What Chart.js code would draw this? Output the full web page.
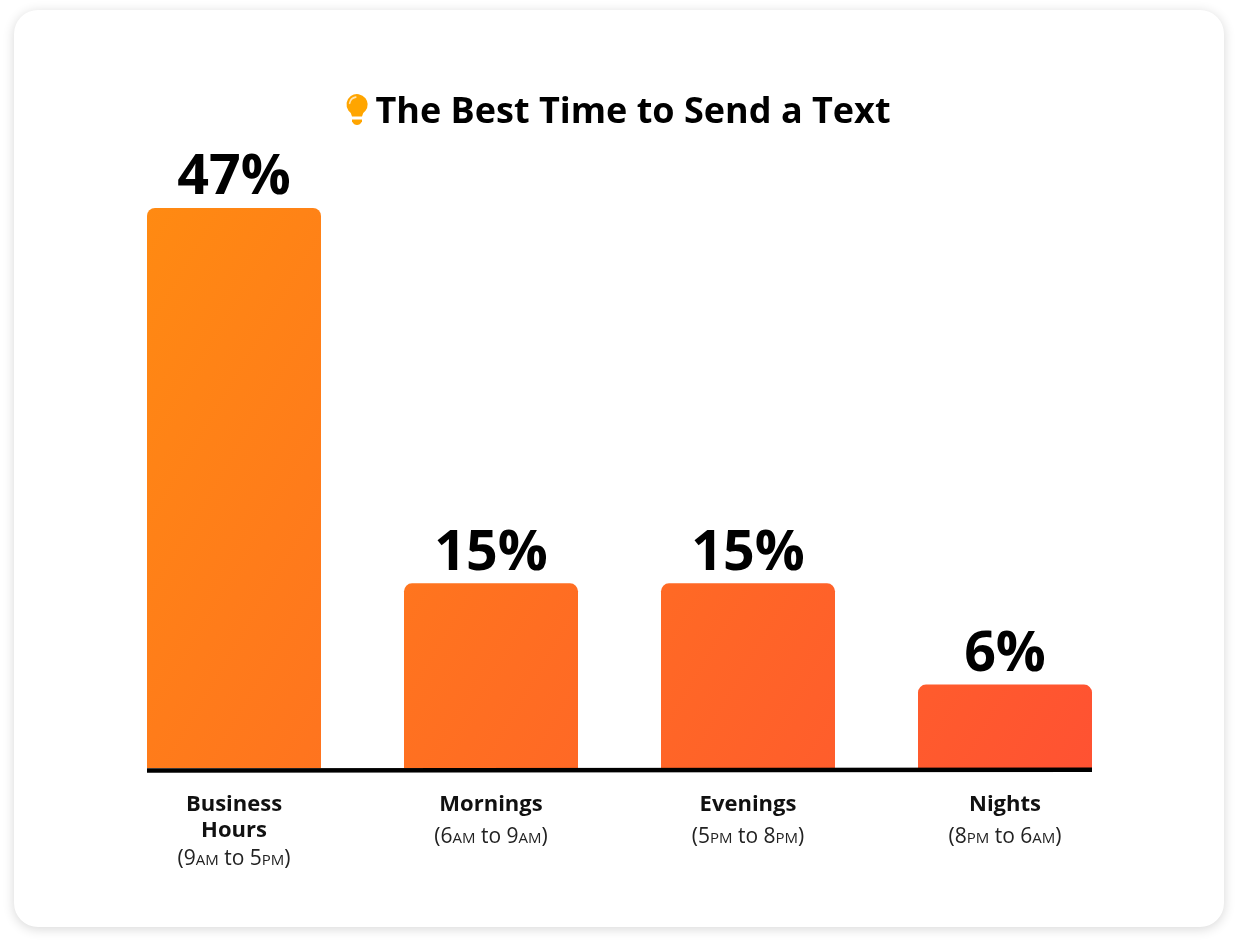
<!DOCTYPE html>
<html><head><meta charset="utf-8">
<style>
html,body{margin:0;padding:0;background:#fff;width:1238px;height:947px;overflow:hidden}
#card{position:absolute;left:14px;top:10px;width:1210px;height:917px;background:#fff;border-radius:24px;box-shadow:0 2px 12px rgba(0,0,0,.16)}
#wrap{position:absolute;left:0;top:0;width:1238px;height:947px}
</style>
<script src="https://cdn.jsdelivr.net/npm/chart.js@4"></script>
</head><body>
<div id="card"></div>
<div id="wrap"><canvas id="c"></canvas></div>
<script>
const chartTitle = "The Best Time to Send a Text";
const categories = [["Business","Hours"],"Mornings","Evenings","Nights"];
const timeRanges = ["(9am to 5pm)","(6am to 9am)","(5pm to 8pm)","(8pm to 6am)"];
const printedValues = ["47%","15%","15%","6%"];
const barHeights = [47,15.5,15.5,7];

const FONT = '"Open Sans"';

function drawRange(ctx, text, cx, y){
  const parts = text.split(/(am|pm)/);
  const fontOf = p => (p==='am'||p==='pm') ? `small-caps 21px ${FONT}` : `21px ${FONT}`;
  let total = 0;
  parts.forEach(p=>{ctx.font=fontOf(p); total+=ctx.measureText(p).width;});
  let x = cx-total/2;
  ctx.textAlign='left';
  parts.forEach(p=>{ctx.font=fontOf(p); ctx.fillText(p,x,y); x+=ctx.measureText(p).width;});
}

const annotate = {
  id:'annotate',
  afterDatasetsDraw(chart){
    const ctx = chart.ctx, bars = chart.getDatasetMeta(0).data;
    ctx.save();
    // baseline rule
    const first = bars[0], last = bars[bars.length-1], base = chart.chartArea.bottom;
    ctx.strokeStyle = '#000'; ctx.lineWidth = 4.5;
    ctx.beginPath();
    ctx.moveTo(first.x-first.width/2, base+2.6);
    ctx.lineTo(last.x+last.width/2, base+1.8);
    ctx.stroke();
    // value labels
    ctx.fillStyle = '#000';
    ctx.textAlign='center'; ctx.textBaseline='alphabetic';
    ctx.font = `bold 55.5px ${FONT}`;
    bars.forEach((b,i)=>ctx.fillText(printedValues[i], b.x, b.y-13.5));
    // time range sublabels
    ctx.fillStyle = '#222';
    bars.forEach((b,i)=>{
      const extra = Array.isArray(categories[i]) ? categories[i].length-1 : 0;
      drawRange(ctx, timeRanges[i], b.x, base + 75 + extra*22);
    });
    // lightbulb
    ctx.translate(357, 104.5);
    ctx.fillStyle = '#FFA500';
    ctx.beginPath();
    ctx.arc(0,0,10.5,Math.PI*0.8,Math.PI*0.2);
    ctx.quadraticCurveTo(5.5,8,5,12);
    ctx.lineTo(-5,12);
    ctx.quadraticCurveTo(-5.5,8,-8.5,6.2);
    ctx.closePath(); ctx.fill();
    ctx.beginPath();
    ctx.moveTo(-5,15); ctx.lineTo(5,15); ctx.lineTo(5,17);
    ctx.quadraticCurveTo(3,20.5,0,20.5); ctx.quadraticCurveTo(-3,20.5,-5,17);
    ctx.closePath(); ctx.fill();
    ctx.strokeStyle='rgba(255,255,255,.7)'; ctx.lineWidth=1.6; ctx.lineCap='round';
    ctx.beginPath(); ctx.arc(0,0,7.5,Math.PI*1.05,Math.PI*1.45); ctx.stroke();
    ctx.restore();
  }
};

function barFill(ctx){
  const ca = ctx.chart.chartArea;
  if(!ca) return '#ff7a18';
  const g = ctx.chart.ctx.createLinearGradient(147,208,1091,768);
  g.addColorStop(0,'#FF8A12');
  g.addColorStop(1,'#FF5232');
  return g;
}

new Chart(document.getElementById('c'),{
  type:'bar',
  data:{labels:categories,datasets:[{
    data:barHeights,
    backgroundColor:barFill,
    borderRadius:{topLeft:8,topRight:8,bottomLeft:0,bottomRight:0},
    borderSkipped:false,
    categoryPercentage:1,
    barPercentage:174/257
  }]},
  options:{
    responsive:true,maintainAspectRatio:false,animation:false,
    devicePixelRatio:1,
    layout:{padding:{left:105.5,right:77.5,top:0,bottom:0}},
    plugins:{
      legend:{display:false},tooltip:{enabled:false},
      title:{display:true,text:chartTitle,color:'#000',
        font:{family:FONT,weight:'bold',size:36,lineHeight:1.2},
        padding:{top:91,bottom:38}}
    },
    scales:{
      x:{
        grid:{display:false},border:{display:false},
        ticks:{color:'#111',maxRotation:0,autoSkip:false,padding:16,
          font:{family:FONT,weight:'bold',size:22,lineHeight:26/22}},
        afterFit(s){s.height=179}
      },
      y:{position:'right',min:0,max:50,
        grid:{display:false},border:{display:false},
        ticks:{display:false},
        afterFit(s){s.width=27}}
    }
  },
  plugins:[annotate]
});
</script>
</body></html>
